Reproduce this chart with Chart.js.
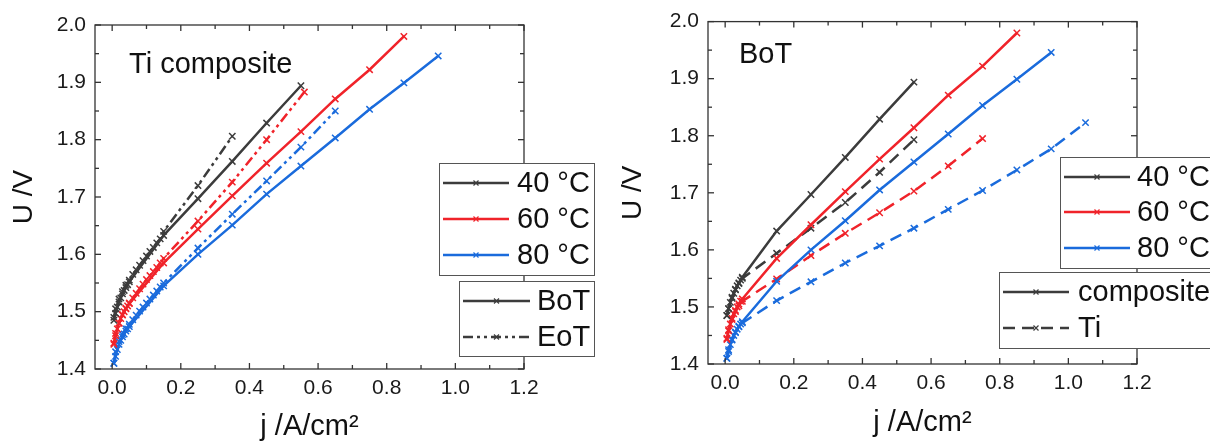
<!DOCTYPE html>
<html>
<head>
<meta charset="utf-8">
<script src="https://cdn.jsdelivr.net/npm/chart.js@4.4.0/dist/chart.umd.min.js"></script>
<style>
  body { margin: 0; background: #fff; }
  .wrap { position: relative; width: 1210px; height: 444px; overflow: hidden; }
  canvas { position: absolute; top: 0; }
  #left { left: 0; }
  #right { left: 605px; }
</style>
</head>
<body>
<div class="wrap">
  <canvas id="left" width="605" height="444"></canvas>
  <canvas id="right" width="605" height="444"></canvas>
</div>

<script>
    // axis ticks
    const xTicks = [0, 0.2, 0.4, 0.6, 0.8, 1.0, 1.2];
    const yTicks = [1.4, 1.5, 1.6, 1.7, 1.8, 1.9, 2.0];
    const temps = ['40 °C', '60 °C', '80 °C'];

    // composite / BoT (same curves in both panels)
    const jBoT40 = [0.005, 0.01, 0.015, 0.02, 0.025, 0.03, 0.035, 0.04, 0.045, 0.05, 0.15, 0.25, 0.35, 0.45, 0.55];
    const uBoT40 = [1.485, 1.497, 1.508, 1.517, 1.524, 1.531, 1.537, 1.542, 1.547, 1.552, 1.633, 1.697, 1.762, 1.829, 1.894];
    const jBoT60 = [0.005, 0.01, 0.015, 0.02, 0.025, 0.03, 0.035, 0.04, 0.045, 0.05, 0.15, 0.25, 0.35, 0.45, 0.55, 0.65, 0.75, 0.85];
    const uBoT60 = [1.443, 1.458, 1.47, 1.48, 1.488, 1.494, 1.5, 1.505, 1.51, 1.514, 1.585, 1.644, 1.702, 1.759, 1.814, 1.871, 1.922, 1.98];
    const jBoT80 = [0.005, 0.01, 0.015, 0.02, 0.025, 0.03, 0.035, 0.04, 0.045, 0.05, 0.15, 0.25, 0.35, 0.45, 0.55, 0.65, 0.75, 0.85, 0.95];
    const uBoT80 = [1.41, 1.422, 1.434, 1.443, 1.45, 1.456, 1.461, 1.466, 1.47, 1.474, 1.545, 1.6, 1.651, 1.705, 1.754, 1.803, 1.853, 1.899, 1.946];

    // Ti composite, EoT (left panel)
    const jEoT40 = [0.005, 0.01, 0.02, 0.03, 0.04, 0.05, 0.06, 0.07, 0.08, 0.09, 0.1, 0.11, 0.12, 0.13, 0.14, 0.15, 0.25, 0.35];
    const uEoT40 = [1.49, 1.505, 1.522, 1.535, 1.546, 1.555, 1.565, 1.573, 1.581, 1.589, 1.597, 1.605, 1.612, 1.62, 1.627, 1.64, 1.72, 1.806];
    const jEoT60 = [0.005, 0.01, 0.02, 0.03, 0.04, 0.05, 0.06, 0.07, 0.08, 0.09, 0.1, 0.11, 0.12, 0.13, 0.14, 0.15, 0.25, 0.35, 0.45, 0.56];
    const uEoT60 = [1.445, 1.462, 1.48, 1.495, 1.506, 1.515, 1.524, 1.532, 1.54, 1.548, 1.556, 1.563, 1.57, 1.577, 1.585, 1.593, 1.658, 1.726, 1.8, 1.883];
    const jEoT80 = [0.005, 0.01, 0.02, 0.03, 0.04, 0.05, 0.06, 0.07, 0.08, 0.09, 0.1, 0.11, 0.12, 0.13, 0.14, 0.15, 0.25, 0.35, 0.45, 0.55, 0.65];
    const uEoT80 = [1.41, 1.43, 1.448, 1.46, 1.47, 1.478, 1.486, 1.494, 1.501, 1.508, 1.515, 1.522, 1.529, 1.536, 1.543, 1.55, 1.611, 1.67, 1.728, 1.787, 1.85];

    // BoT, Ti (right panel)
    const jTi40 = [0.005, 0.01, 0.02, 0.03, 0.04, 0.05, 0.15, 0.25, 0.35, 0.45, 0.55];
    const uTi40 = [1.485, 1.497, 1.515, 1.53, 1.541, 1.55, 1.594, 1.638, 1.683, 1.736, 1.793];
    const jTi60 = [0.005, 0.01, 0.02, 0.03, 0.04, 0.05, 0.15, 0.25, 0.35, 0.45, 0.55, 0.65, 0.75];
    const uTi60 = [1.445, 1.46, 1.478, 1.492, 1.502, 1.51, 1.549, 1.59, 1.629, 1.665, 1.703, 1.747, 1.795];
    const jTi80 = [0.005, 0.01, 0.02, 0.03, 0.04, 0.05, 0.15, 0.25, 0.35, 0.45, 0.55, 0.65, 0.75, 0.85, 0.95, 1.05];
    const uTi80 = [1.41, 1.425, 1.442, 1.455, 1.465, 1.472, 1.511, 1.544, 1.577, 1.607, 1.638, 1.671, 1.704, 1.74, 1.777, 1.823];

    const colors = ['#3c3c3c', '#f0232a', '#1a6bdc'];
    const dashDotDot = [10, 4, 3, 4, 3, 4];
    const dashed = [12, 7];
    const FONT = '"Liberation Sans", Arial, sans-serif';

    const pts = (j, u) => j.map((v, i) => ({x: v, y: u[i]}));

    function series(j, u, color, dash) {
        return {
            data: pts(j, u),
            borderColor: color,
            backgroundColor: color,
            borderWidth: 2.5,
            borderDash: dash,
            pointStyle: 'crossRot',
            pointRadius: 4.5,
            pointBorderWidth: 1.5,
            pointBorderColor: color,
            tension: 0
        };
    }

    // frame + inward ticks on all four sides
    const frameTicks = {
        id: 'frameTicks',
        afterDatasetsDraw(chart) {
            const {ctx, chartArea: a, scales: {x, y}} = chart;
            ctx.save();
            ctx.strokeStyle = '#333';
            ctx.lineWidth = 1.3;
            ctx.setLineDash([]);
            ctx.strokeRect(a.left, a.top, a.right - a.left, a.bottom - a.top);
            const seg = (x1, y1, x2, y2) => { ctx.beginPath(); ctx.moveTo(x1, y1); ctx.lineTo(x2, y2); ctx.stroke(); };
            xTicks.forEach((v, i) => {
                const p = x.getPixelForValue(v);
                seg(p, a.bottom, p, a.bottom - 6);
                seg(p, a.top, p, a.top + 6);
                if (i < xTicks.length - 1) {
                    const m = x.getPixelForValue((v + xTicks[i + 1]) / 2);
                    seg(m, a.bottom, m, a.bottom - 4);
                    seg(m, a.top, m, a.top + 4);
                }
            });
            yTicks.forEach((v, i) => {
                const p = y.getPixelForValue(v);
                seg(a.left, p, a.left + 6, p);
                seg(a.right, p, a.right - 6, p);
                if (i < yTicks.length - 1) {
                    const m = y.getPixelForValue((v + yTicks[i + 1]) / 2);
                    seg(a.left, m, a.left + 4, m);
                    seg(a.right, m, a.right - 4, m);
                }
            });
            ctx.restore();
        }
    };

    // boxed legends + panel label
    const boxLegend = {
        id: 'boxLegend',
        afterDraw(chart, args, opts) {
            const ctx = chart.ctx;
            ctx.save();
            ctx.font = '29px ' + FONT;
            ctx.fillStyle = '#111';
            ctx.textBaseline = 'alphabetic';
            ctx.fillText(opts.label, opts.labelX, opts.labelY);
            opts.boxes.forEach(b => {
                ctx.fillStyle = '#fff';
                ctx.fillRect(b.x, b.y, b.w, b.h);
                ctx.strokeStyle = '#555';
                ctx.lineWidth = 1;
                ctx.setLineDash([]);
                ctx.strokeRect(b.x + 0.5, b.y + 0.5, b.w, b.h);
                b.rows.forEach(r => {
                    ctx.strokeStyle = r.color;
                    ctx.lineWidth = 2.5;
                    ctx.setLineDash(r.dash);
                    ctx.beginPath();
                    ctx.moveTo(b.x + 4, r.y);
                    ctx.lineTo(b.x + 4 + b.line, r.y);
                    ctx.stroke();
                    ctx.setLineDash([]);
                    ctx.lineWidth = 1.2;
                    const cx = b.x + 4 + b.line / 2;
                    ctx.beginPath();
                    ctx.moveTo(cx - 2.5, r.y - 2.5); ctx.lineTo(cx + 2.5, r.y + 2.5);
                    ctx.moveTo(cx - 2.5, r.y + 2.5); ctx.lineTo(cx + 2.5, r.y - 2.5);
                    ctx.stroke();
                    ctx.fillStyle = '#111';
                    ctx.textBaseline = 'middle';
                    ctx.fillText(r.label, b.x + b.text, r.y + 1);
                });
            });
            ctx.restore();
        }
    };

    function makeOptions(yWidth, xHeight, padTop, padRight, yTitlePad, xTitlePad, legendOpts) {
        return {
            responsive: false,
            animation: false,
            layout: {padding: {left: 0, top: padTop, right: padRight, bottom: 0}},
            scales: {
                x: {
                    type: 'linear',
                    min: -0.05,
                    max: 1.2,
                    afterBuildTicks: s => { s.ticks = xTicks.map(v => ({value: v})); },
                    afterFit: s => { s.height = xHeight; },
                    grid: {display: false, drawTicks: false},
                    border: {display: false},
                    ticks: {
                        padding: 7,
                        color: '#1a1a1a',
                        font: {family: FONT, size: 21},
                        callback: v => v.toFixed(1)
                    },
                    title: {
                        display: true,
                        text: 'j /A/cm²',
                        color: '#111',
                        font: {family: FONT, size: 29},
                        padding: {top: 0, bottom: xTitlePad}
                    }
                },
                y: {
                    type: 'linear',
                    min: 1.4,
                    max: 2.0,
                    afterBuildTicks: s => { s.ticks = yTicks.map(v => ({value: v})); },
                    afterFit: s => { s.width = yWidth; },
                    grid: {display: false, drawTicks: false},
                    border: {display: false},
                    ticks: {
                        padding: 9,
                        color: '#1a1a1a',
                        font: {family: FONT, size: 21},
                        callback: v => v.toFixed(1)
                    },
                    title: {
                        display: true,
                        text: 'U /V',
                        color: '#111',
                        font: {family: FONT, size: 28},
                        padding: {top: yTitlePad, bottom: 0}
                    }
                }
            },
            plugins: {
                legend: {display: false},
                tooltip: {enabled: false},
                boxLegend: legendOpts
            }
        };
    }

    const tempRows = (ys) => temps.map((t, i) => ({label: t, color: colors[i], dash: [], y: ys[i]}));

    // left panel: Ti composite
    new Chart(document.getElementById('left'), {
        type: 'line',
        data: {
            datasets: [
                series(jBoT40, uBoT40, colors[0], []),
                series(jBoT60, uBoT60, colors[1], []),
                series(jBoT80, uBoT80, colors[2], []),
                series(jEoT40, uEoT40, colors[0], dashDotDot),
                series(jEoT60, uEoT60, colors[1], dashDotDot),
                series(jEoT80, uEoT80, colors[2], dashDotDot)
            ]
        },
        options: makeOptions(95, 75, 25, 81, 7, 0, {
            label: 'Ti composite', labelX: 129, labelY: 73,
            boxes: [
                {x: 439, y: 163, w: 155, h: 112, line: 66, text: 78, rows: tempRows([183, 219, 255])},
                {x: 459, y: 281, w: 135, h: 75, line: 67, text: 78, rows: [
                    {label: 'BoT', color: colors[0], dash: [], y: 301},
                    {label: 'EoT', color: colors[0], dash: dashDotDot, y: 337}
                ]}
            ]
        }),
        plugins: [frameTicks, boxLegend]
    });

    // right panel: BoT
    new Chart(document.getElementById('right'), {
        type: 'line',
        data: {
            datasets: [
                series(jBoT40, uBoT40, colors[0], []),
                series(jBoT60, uBoT60, colors[1], []),
                series(jBoT80, uBoT80, colors[2], []),
                series(jTi40, uTi40, colors[0], dashed),
                series(jTi60, uTi60, colors[1], dashed),
                series(jTi80, uTi80, colors[2], dashed)
            ]
        },
        options: makeOptions(103, 80, 19, 73, 11, 4, {
            label: 'BoT', labelX: 134, labelY: 63,
            boxes: [
                {x: 455, y: 157, w: 200, h: 111, line: 66, text: 77, rows: tempRows([177, 212, 248])},
                {x: 394, y: 272, w: 260, h: 76, line: 66, text: 79, rows: [
                    {label: 'composite', color: colors[0], dash: [], y: 292},
                    {label: 'Ti', color: colors[0], dash: dashed, y: 328}
                ]}
            ]
        }),
        plugins: [frameTicks, boxLegend]
    });
</script>
</body>
</html>
